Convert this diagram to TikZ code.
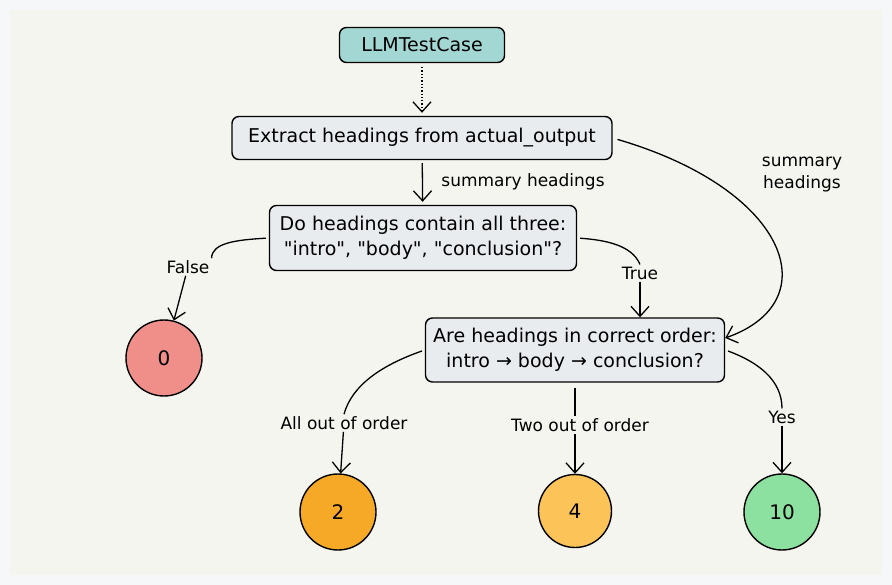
\documentclass[tikz,border=0pt]{standalone}
\usepackage{fontspec}
\setmainfont{DejaVu Sans}[Ligatures=TeXOff]
\usetikzlibrary{arrows.meta}

\definecolor{frame}{RGB}{246,247,249}
\definecolor{paper}{RGB}{245,245,239}
\definecolor{boxgray}{RGB}{233,236,239}
\definecolor{teal}{RGB}{163,215,211}
\definecolor{zerored}{RGB}{240,142,137}
\definecolor{twoorange}{RGB}{245,169,38}
\definecolor{fouryellow}{RGB}{252,195,88}
\definecolor{tengreen}{RGB}{140,224,160}

\begin{document}
\begin{tikzpicture}[x=1pt,y=-1pt,
  box/.style={rectangle,rounded corners=7pt,draw=black,line width=1.4pt,fill=boxgray,align=center,font=\fontsize{19}{25}\selectfont},
  score/.style={circle,draw=black,line width=1.4pt,font=\fontsize{20}{24}\selectfont},
  lbl/.style={font=\fontsize{17}{22}\selectfont,inner sep=2pt,align=center},
  link/.style={line width=1.3pt},
  arr/.style={line width=1.3pt,-{Straight Barb[length=10pt,width=18pt]}}]
\useasboundingbox (0,0) rectangle (892,585);
\fill[frame] (0,0) rectangle (892,585);
\fill[paper] (10,10) rectangle (882,575);

% boxes
\node[box,fill=teal,minimum width=165pt,minimum height=35pt] (test) at (422,45) {LLMTestCase};
\node[box,minimum width=380pt,minimum height=43pt] (extract) at (422,138) {Extract headings from actual\_output};
\node[box,minimum width=307pt,minimum height=65pt] (check) at (423,238) {Do headings contain all three:\\"intro", "body", "conclusion"?};
\node[box,minimum width=299pt,minimum height=64pt] (order) at (575,350) {Are headings in correct order:\\intro → body → conclusion?};

% scores
\node[score,fill=zerored,minimum size=76pt] (zero) at (164,358) {0};
\node[score,fill=twoorange,minimum size=76pt] (two) at (338,512) {2};
\node[score,fill=fouryellow,minimum size=73pt] (four) at (575,511) {4};
\node[score,fill=tengreen,minimum size=76pt] (ten) at (782,512) {10};

% labels
\node[lbl] (sumA) at (523,182) {summary headings};
\node[lbl] (sumB) at (802,175) {summary\\headings};
\node[lbl] (false) at (188,267) {False};
\node[lbl] (true) at (640,273) {True};
\node[lbl] (allout) at (344,423) {All out of order};
\node[lbl] (twoout) at (580,425) {Two out of order};
\node[lbl] (yes) at (782,417) {Yes};

% connectors
\draw[arr,dotted,shorten <=4pt,shorten >=3pt] (test) -- (extract);
\draw[arr,shorten <=3pt,shorten >=3pt] (extract) -- (check);
\draw[arr,shorten <=5pt] (extract.east) .. controls (790,190) and (828,302) .. ([yshift=12pt]order.east);
\draw[link,shorten <=3pt] (check.west) .. controls (235,240) and (212,243) .. (false.north east);
\draw[arr] (false) -- (zero);
\draw[link,shorten <=3pt] (check.east) .. controls (605,240) and (632,245) .. (true.north);
\draw[arr] (true.south) -- (true.south |- order.north);
\draw[link,shorten <=3pt] (order.west) .. controls (382,365) and (352,385) .. (allout.north);
\draw[arr] (allout) -- (two);
\draw[link,shorten <=5pt] (order.south) -- (order.south |- twoout.north);
\draw[arr] (twoout.south -| four.north) -- (four);
\draw[link,shorten <=3pt] (order.east) .. controls (758,362) and (782,380) .. (yes.north);
\draw[arr] (yes) -- (ten);
\end{tikzpicture}
\end{document}
